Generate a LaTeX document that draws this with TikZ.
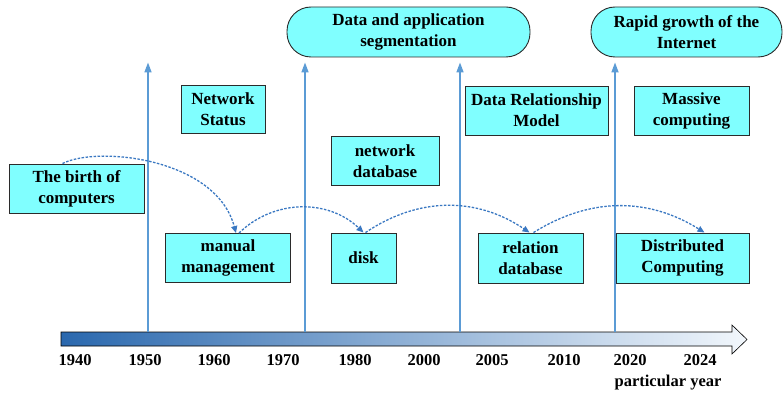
\documentclass[tikz,border=0pt]{standalone}
\usepackage{fontspec}
\setmainfont{Liberation Serif}
\usetikzlibrary{arrows.meta, positioning, calc}
\definecolor{boxfill}{HTML}{80FFFF}
\definecolor{boxline}{HTML}{2B2B2B}
\definecolor{riserline}{HTML}{5B9BD5}
\definecolor{hopline}{HTML}{3A78C2}
\definecolor{axisdark}{HTML}{2A68AE}
\definecolor{axislight}{HTML}{F2F7FC}
\tikzset{
  era/.style    = {rectangle, draw=boxline, fill=boxfill, line width=0.9pt,
                   align=center, font=\fontsize{17}{21}\selectfont\bfseries,
                   minimum height=49pt, inner sep=2pt},
  stage/.style  = {era, rounded corners=24pt, minimum height=50pt},
  yr/.style     = {font=\fontsize{16.5}{20}\selectfont\bfseries, inner sep=1pt},
  riser/.style  = {-{Triangle[length=10pt,width=7pt]}, line width=1.6pt, draw=riserline},
  hop/.style    = {-{Triangle[length=7pt,width=6pt]}, line width=1.3pt, draw=hopline,
                   dash pattern=on 2.5pt off 1.5pt},
}

\begin{document}
\begin{tikzpicture}[x=1pt, y=1pt]
  \useasboundingbox (0,0) rectangle (783,394);
  % time axis
  \draw[left color=axisdark, right color=axislight, draw=black, line width=0.6pt]
    (61,48) -- (732,48) -- (732,40) -- (747,54.5) -- (732,69) -- (732,62) -- (61,62) -- cycle;
  \foreach \x/\yy in {75/1940, 145/1950, 214/1960, 283/1970, 355/1980,
                      424/2000, 492/2005, 564/2010, 630/2020, 700/2024}{
    \node[yr] (y\yy) at (\x,34) {\yy};
  }
  \node[yr] (unit) at (668,11) {particular year};

  % stages on top
  \node[stage, minimum width=243pt] (seg) at (408.5,362) {Data and application\\segmentation};
  \node[stage, minimum width=191pt] (internet) at (686.5,362) {Rapid growth of the\\Internet};

  % upper row
  \node[era, minimum width=84pt, minimum height=48pt] (netstatus) at (223,285) {Network\\Status};
  \node[era, minimum width=108pt] (netdb) at (385,233) {network\\database};
  \node[era, minimum width=143pt] (drm) at (536.5,283.5) {Data Relationship\\Model};
  \node[era, minimum width=115pt] (massive) at (691.5,283.5) {Massive\\computing};

  % lower row
  \node[era, minimum width=135pt] (birth) at (76.5,205.5) {The birth of\\computers};
  \node[era, minimum width=125pt] (manual) at (228,136) {manual\\management};
  \node[era, minimum width=65pt, minimum height=50pt] (disk) at (363.5,136) {disk};
  \node[era, minimum width=105pt, minimum height=50pt] (reldb) at (530.5,136) {relation\\database};
  \node[era, minimum width=133pt, minimum height=50pt] (distcomp) at (682.5,136) {Distributed\\Computing};

  % risers from the axis
  \foreach \x/\nm in {148/a, 305/b, 460/c}{
    \coordinate (base\nm) at (\x,62);
    \draw[riser, shorten >=5pt] (base\nm) -- (base\nm |- seg.south);
  }
  \coordinate (based) at (615,62);
  \draw[riser, shorten >=5pt] (based) -- (based |- internet.south);

  % hops between the stages
  \draw[hop] ([xshift=-14pt]birth.north) .. controls +(35,18) and +(-20,75) .. ([xshift=8pt]manual.north);
  \draw[hop] ([xshift=11pt]manual.north) to[bend left=44] (disk.north);
  \draw[hop] ([xshift=2pt]disk.north) to[bend left=34] ([xshift=-1pt]reldb.north);
  \draw[hop] ([xshift=3pt]reldb.north) to[bend left=32] ([xshift=22pt]distcomp.north);
\end{tikzpicture}
\end{document}
